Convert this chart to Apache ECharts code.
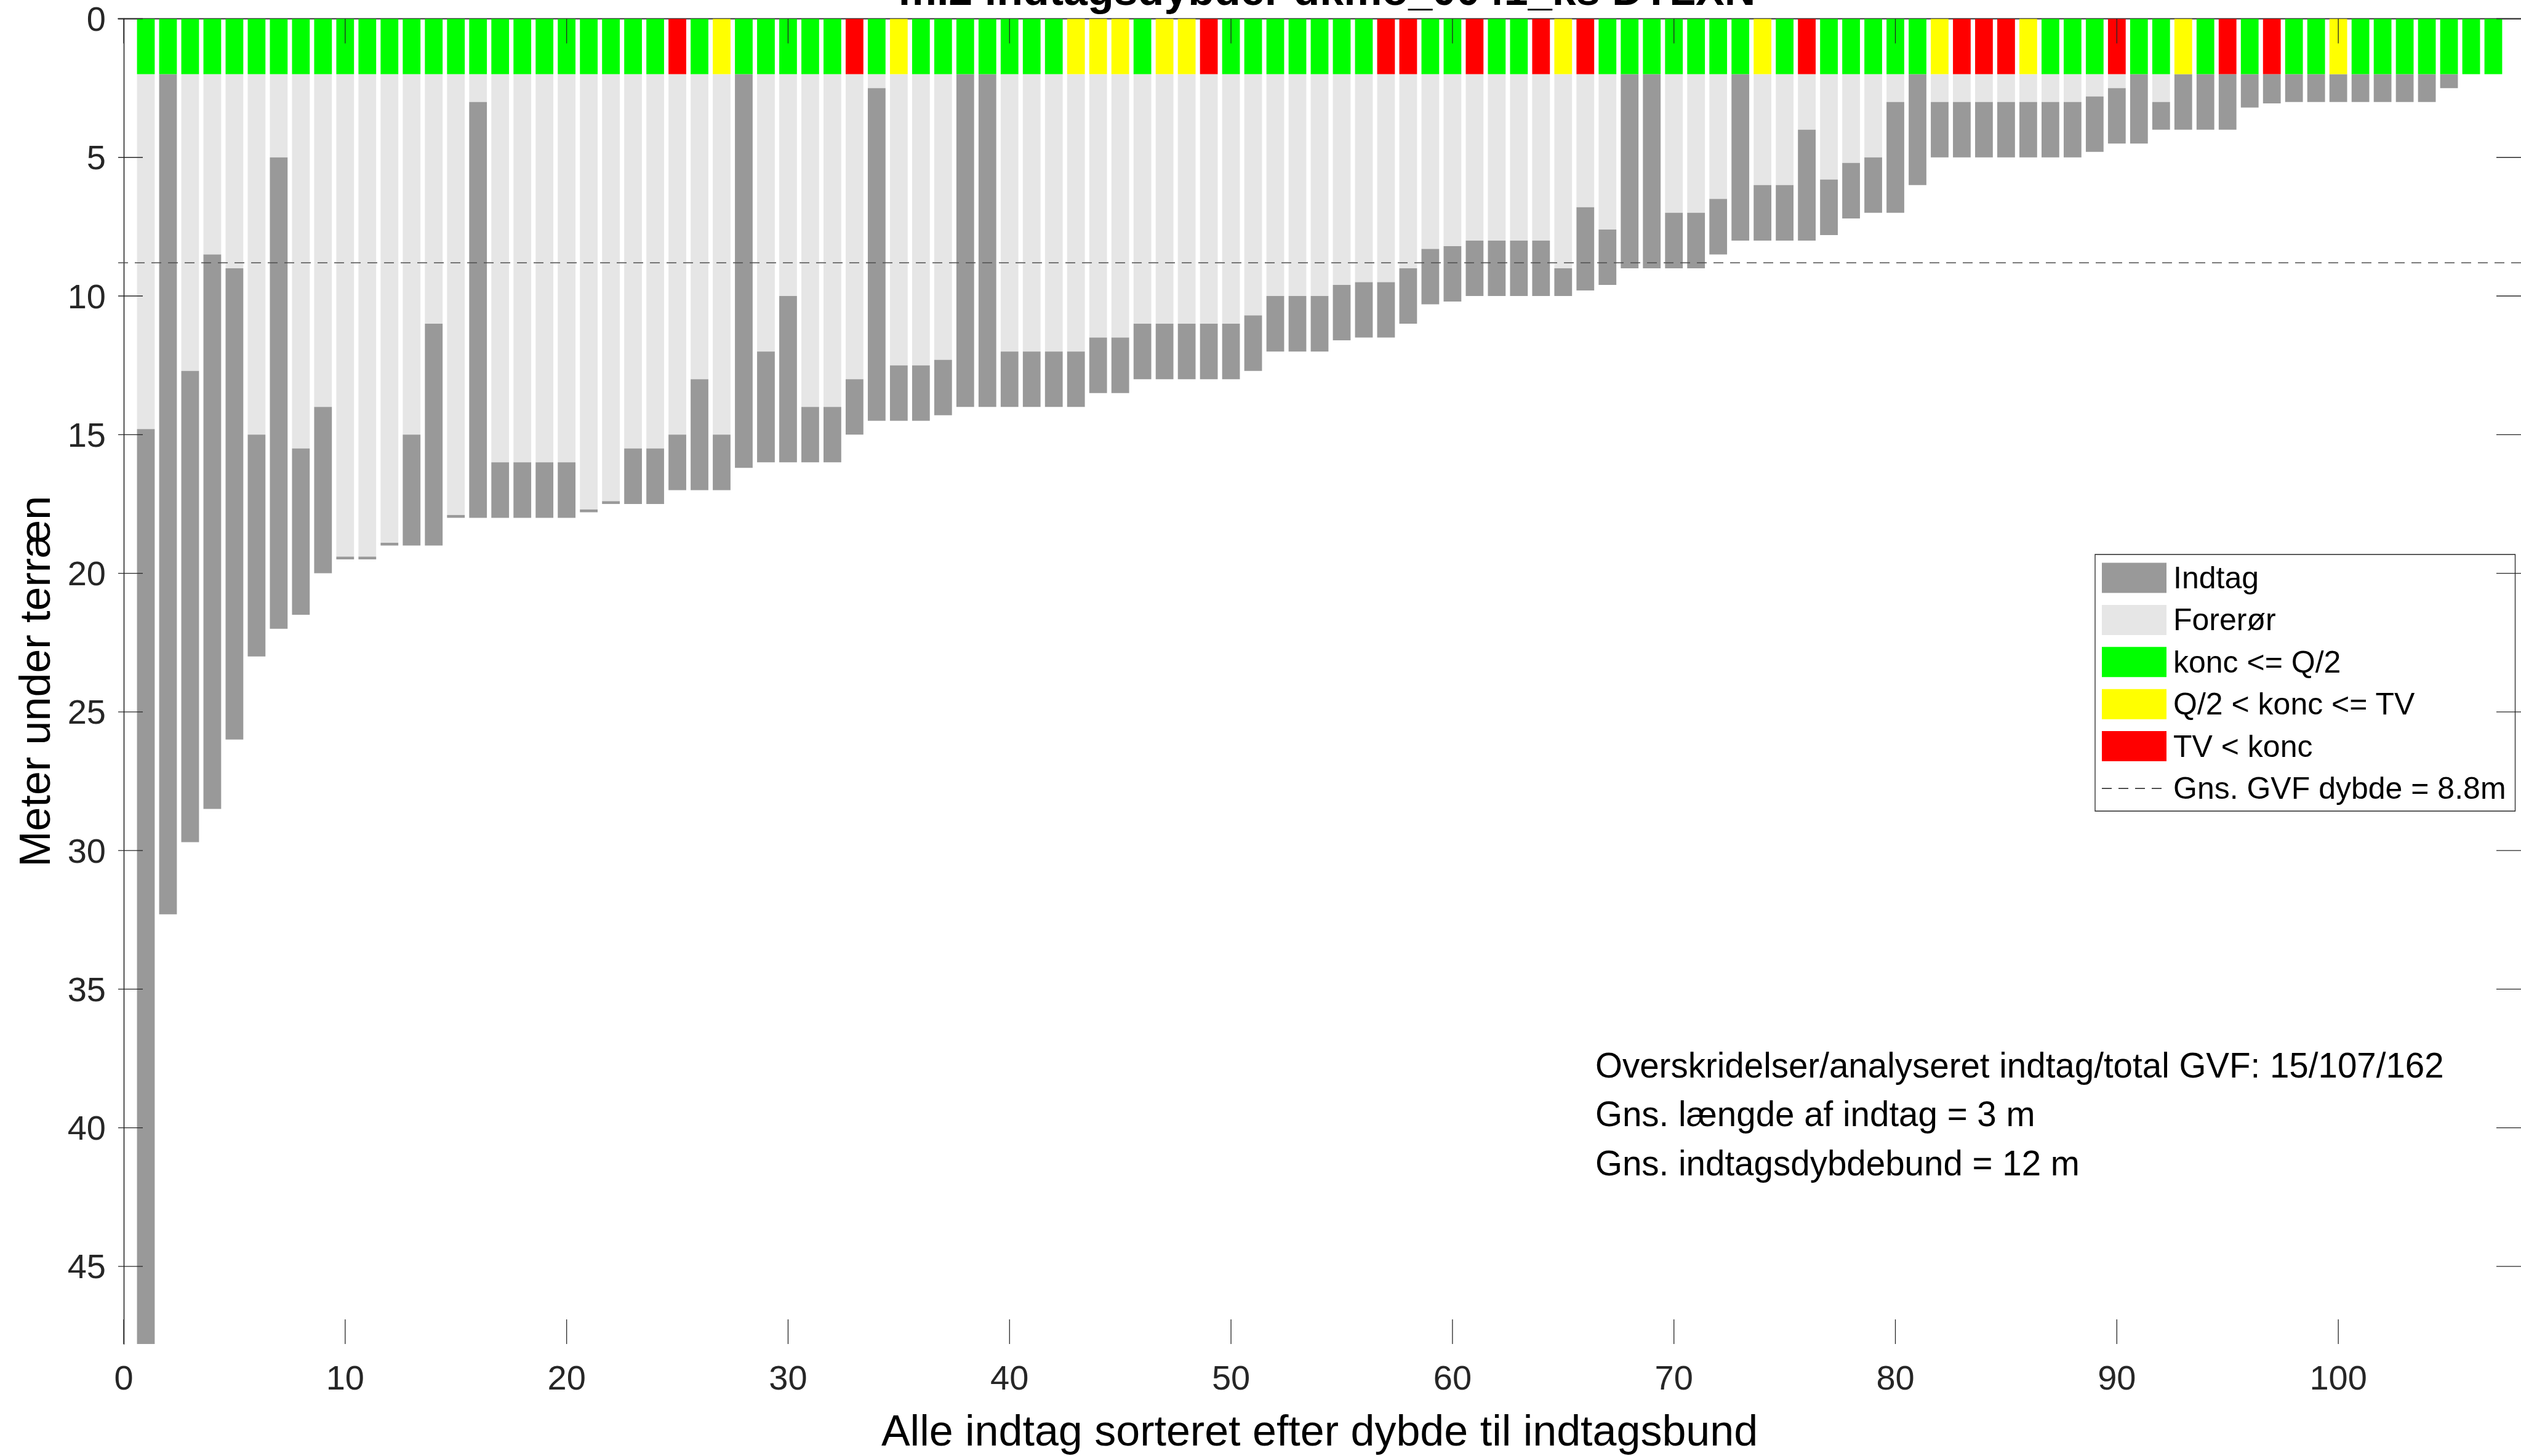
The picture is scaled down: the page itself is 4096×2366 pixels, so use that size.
<!DOCTYPE html>
<html>
<head>
<meta charset="utf-8">
<script src="https://cdn.jsdelivr.net/npm/echarts@6/dist/echarts.min.js"></script>
<style>
html,body{margin:0;padding:0;background:#fff;}
#chart{width:4096px;height:2366px;}
</style>
</head>
<body>
<div id="chart"></div>
<script>
// ---- data ----
var intakeTop = [14.8,2.0,12.7,8.5,9.0,15.0,5.0,15.5,14.0,19.4,
  19.4,18.9,15.0,11.0,17.9,3.0,16.0,16.0,16.0,16.0,
  17.7,17.4,15.5,15.5,15.0,13.0,15.0,2.0,12.0,10.0,
  14.0,14.0,13.0,2.5,12.5,12.5,12.3,2.0,2.0,12.0,
  12.0,12.0,12.0,11.5,11.5,11.0,11.0,11.0,11.0,11.0,
  10.7,10.0,10.0,10.0,9.6,9.5,9.5,9.0,8.3,8.2,
  8.0,8.0,8.0,8.0,9.0,6.8,7.6,2.0,2.0,7.0,
  7.0,6.5,2.0,6.0,6.0,4.0,5.8,5.2,5.0,3.0,
  2.0,3.0,3.0,3.0,3.0,3.0,3.0,3.0,2.8,2.5,
  2.0,3.0,2.0,2.0,2.0,2.0,2.0,2.0,2.0,2.0,
  2.0,2.0,2.0,2.0,2.0,2.0,2.0];
var intakeBottom = [47.8,32.3,29.7,28.5,26.0,23.0,22.0,21.5,20.0,19.5,
  19.5,19.0,19.0,19.0,18.0,18.0,18.0,18.0,18.0,18.0,
  17.8,17.5,17.5,17.5,17.0,17.0,17.0,16.2,16.0,16.0,
  16.0,16.0,15.0,14.5,14.5,14.5,14.3,14.0,14.0,14.0,
  14.0,14.0,14.0,13.5,13.5,13.0,13.0,13.0,13.0,13.0,
  12.7,12.0,12.0,12.0,11.6,11.5,11.5,11.0,10.3,10.2,
  10.0,10.0,10.0,10.0,10.0,9.8,9.6,9.0,9.0,9.0,
  9.0,8.5,8.0,8.0,8.0,8.0,7.8,7.2,7.0,7.0,
  6.0,5.0,5.0,5.0,5.0,5.0,5.0,5.0,4.8,4.5,
  4.5,4.0,4.0,4.0,4.0,3.2,3.05,3.0,3.0,3.0,
  3.0,3.0,3.0,3.0,2.5,2.0,2.0];
// g = konc <= Q/2, y = Q/2 < konc <= TV, r = TV < konc
var statusCodes = ['g','g','g','g','g','g','g','g','g','g',
  'g','g','g','g','g','g','g','g','g','g',
  'g','g','g','g','r','g','y','g','g','g',
  'g','g','r','g','y','g','g','g','g','g',
  'g','g','y','y','y','g','y','y','r','g',
  'g','g','g','g','g','g','r','r','g','g',
  'r','g','g','r','y','r','g','g','g','g',
  'g','g','g','y','g','r','g','g','g','g',
  'g','y','r','r','r','y','g','g','g','r',
  'g','g','y','g','r','g','r','g','g','y',
  'g','g','g','g','g','g','g'];
var casingTop = 2.0;          // bottom of the status block / top of forerør
var gvfMeanDepth = 8.8;
var xTicks = [0,10,20,30,40,50,60,70,80,90,100];
var yTicks = [0,5,10,15,20,25,30,35,40,45];
var xMin = -0.25, xMax = 108.25, yMax = 47.8;

var titleText = 'm.2 indtagsdybder dkmo_0041_ks DTLXN';
var infoLines = ['Overskridelser/analyseret indtag/total GVF: 15/107/162',
                 'Gns. længde af indtag = 3 m',
                 'Gns. indtagsdybdebund = 12 m'];
var names = {intake:'Indtag', casing:'Forerør', g:'konc <= Q/2', y:'Q/2 < konc <= TV', r:'TV < konc', mean:'Gns. GVF dybde = 8.8m'};
var colors = {intake:'#999999', casing:'#e6e6e6', g:'#00ff00', y:'#ffff00', r:'#ff0000', mean:'#4d4d4d'};

// ---- build series data ----
var intakeData = [], casingData = [], statusData = {g:[], y:[], r:[]};
for (var i = 0; i < intakeTop.length; i++) {
  var pos = i + 1;
  intakeData.push([pos, intakeTop[i], intakeBottom[i]]);
  casingData.push([pos, casingTop, intakeTop[i]]);
  statusData[statusCodes[i]].push([pos, 0, casingTop]);
}
var xTickData = xTicks.map(function (v) { return [v, 0]; });
var yTickData = yTicks.map(function (v) { return [0, v]; });

function rectRenderer(color) {
  return function (params, api) {
    var x = api.value(0), a = api.value(1), b = api.value(2);
    var p0 = api.coord([x, a]), p1 = api.coord([x, b]);
    var w = api.size([0.8, 0])[0];
    var h = Math.abs(p1[1] - p0[1]);
    if (h <= 0) return null;
    return {type:'rect', shape:{x:p0[0]-w/2, y:Math.min(p0[1],p1[1]), width:w, height:h},
            style:{fill:color}};
  };
}
function customSeries(name, data, color, z) {
  return {type:'custom', name:name, data:data, renderItem:rectRenderer(color),
          itemStyle:{color:color}, encode:{x:0, y:[1,2]}, z:z, silent:true, animation:false, clip:true};
}

var FONT = '"Liberation Sans", Arial, Helvetica, sans-serif';
var axisColor = '#262626';
var TICK_LEN = 40, TICK_W = 1.3;
// dashed-line legend icon (4 dashes), laid out in a 105 x 49 box
var dashIcon = 'path://M0,0L0.01,0L0.01,0.01Z M0,24L16,24L16,25.5L0,25.5Z M27,24L43,24L43,25.5L27,25.5Z M54,24L70,24L70,25.5L54,25.5Z M81,24L97,24L97,25.5L81,25.5Z M104.99,48.99L105,48.99L105,49Z';

// inward tick marks on all four sides (MATLAB box style), placed through the axis scales
function xTickRenderer(params, api) {
  var cs = params.coordSys;
  var px = api.coord([api.value(0), 0])[0];
  var yb = cs.y + cs.height, yt = cs.y;
  var st = {stroke:axisColor, lineWidth:TICK_W};
  return {type:'group', children:[
    {type:'line', shape:{x1:px, y1:yb, x2:px, y2:yb - TICK_LEN}, style:st},
    {type:'line', shape:{x1:px, y1:yt, x2:px, y2:yt + TICK_LEN}, style:st}
  ]};
}
function yTickRenderer(params, api) {
  var cs = params.coordSys;
  var py = api.coord([0, api.value(1)])[1];
  var xl = cs.x, xr = cs.x + cs.width;
  var st = {stroke:axisColor, lineWidth:TICK_W};
  return {type:'group', children:[
    {type:'line', shape:{x1:xl, y1:py, x2:xl + TICK_LEN, y2:py}, style:st},
    {type:'line', shape:{x1:xr, y1:py, x2:xr - TICK_LEN, y2:py}, style:st}
  ]};
}

var chart = echarts.init(document.getElementById('chart'), null, {renderer:'svg'});
var option = {
  backgroundColor:'#ffffff',
  animation:false,
  textStyle:{fontFamily:FONT},
  grid:{left:192, top:30.5, right:-25, bottom:182, containLabel:false},
  xAxis:[{
    type:'value', min:xMin, max:xMax, position:'bottom',
    name:'Alle indtag sorteret efter dybde til indtagsbund', nameLocation:'middle', nameGap:106,
    nameTextStyle:{fontSize:70, color:'#000', fontFamily:FONT},
    axisLine:{show:true, lineStyle:{color:axisColor, width:1.3}},
    axisTick:{show:false},
    axisLabel:{show:true, customValues:xTicks, fontSize:56, color:axisColor, margin:26, fontFamily:FONT},
    splitLine:{show:false}
  },{
    type:'value', min:xMin, max:xMax, position:'top',
    axisLine:{show:true, lineStyle:{color:axisColor, width:1.3}},
    axisTick:{show:false},
    axisLabel:{show:false}, splitLine:{show:false}
  }],
  yAxis:[{
    type:'value', min:0, max:yMax, inverse:true, position:'left',
    name:'Meter under terræn', nameLocation:'middle', nameGap:100, nameRotate:90,
    nameTextStyle:{fontSize:70, color:'#000', fontFamily:FONT},
    axisLine:{show:true, lineStyle:{color:axisColor, width:1.3}},
    axisTick:{show:false},
    axisLabel:{show:true, customValues:yTicks, fontSize:56, color:axisColor, margin:20, fontFamily:FONT},
    splitLine:{show:false}
  },{
    type:'value', min:0, max:yMax, inverse:true, position:'right',
    axisLine:{show:true, lineStyle:{color:axisColor, width:1.3}},
    axisTick:{show:false},
    axisLabel:{show:false}, splitLine:{show:false}
  }],
  legend:{
    orient:'vertical', left:3404, top:901,
    padding:[13,15,12,11], itemWidth:105, itemHeight:49, itemGap:18.4,
    backgroundColor:'#ffffff', borderColor:axisColor, borderWidth:1.3,
    textStyle:{fontSize:50, color:'#000', fontFamily:FONT, padding:[0,0,0,6]},
    selectedMode:false,
    data:[
      {name:names.intake, icon:'rect'},
      {name:names.casing, icon:'rect'},
      {name:names.g, icon:'rect'},
      {name:names.y, icon:'rect'},
      {name:names.r, icon:'rect'},
      {name:names.mean, icon:dashIcon, itemStyle:{color:'#1a1a1a'}}
    ]
  },
  graphic:[
    {type:'text', x:2156, y:19, z:100, style:{text:titleText, font:'bold 70px '+FONT, fill:'#000', align:'center', verticalAlign:'bottom'}},
    {type:'text', x:2592, y:1731, z:100, style:{text:infoLines[0], font:'56.5px '+FONT, fill:'#000', align:'left', verticalAlign:'middle'}},
    {type:'text', x:2592, y:1810, z:100, style:{text:infoLines[1], font:'56.5px '+FONT, fill:'#000', align:'left', verticalAlign:'middle'}},
    {type:'text', x:2592, y:1890, z:100, style:{text:infoLines[2], font:'56.5px '+FONT, fill:'#000', align:'left', verticalAlign:'middle'}}
  ],
  series:[
    customSeries(names.intake, intakeData, colors.intake, 3),
    customSeries(names.casing, casingData, colors.casing, 2),
    customSeries(names.g, statusData.g, colors.g, 4),
    customSeries(names.y, statusData.y, colors.y, 4),
    customSeries(names.r, statusData.r, colors.r, 4),
    {type:'line', name:names.mean, data:[[xMin, gvfMeanDepth],[xMax, gvfMeanDepth]],
     symbol:'none', showSymbol:false, z:5, silent:true, animation:false,
     itemStyle:{color:colors.mean},
     lineStyle:{color:colors.mean, width:1.5, type:[16,11]}},
    {type:'custom', name:'xticks', data:xTickData, renderItem:xTickRenderer, encode:{x:0, y:1},
     z:6, silent:true, animation:false, clip:false},
    {type:'custom', name:'yticks', data:yTickData, renderItem:yTickRenderer, encode:{x:0, y:1},
     z:6, silent:true, animation:false, clip:false}
  ]
};
chart.setOption(option);
</script>
</body>
</html>
